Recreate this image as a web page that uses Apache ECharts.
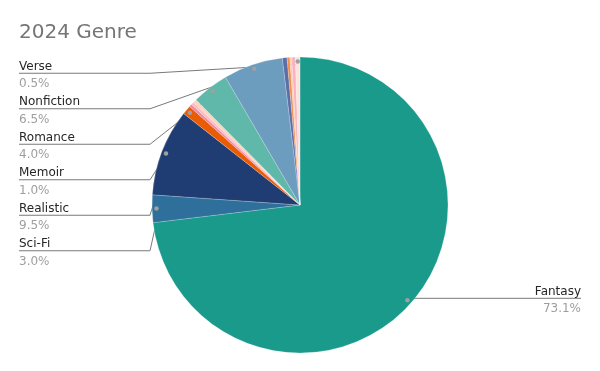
<!DOCTYPE html>
<html><head><meta charset="utf-8">
<script src="https://cdn.jsdelivr.net/npm/echarts@6/dist/echarts.min.js"></script>
<style>html,body{margin:0;padding:0;background:#fff}#c{width:600px;height:371px}</style>
</head><body><div id="c"></div>
<script>
// ---- data ----
const categories = ['Fantasy','Sci-Fi','Realistic','Memoir','Unlabeled 1','Unlabeled 2','Unlabeled 3','Romance','Nonfiction','Unlabeled 4','Unlabeled 5','Unlabeled 6','Unlabeled 7','Verse'];
const values = [73.1, 3.0, 9.5, 1.0, 0.3, 0.3, 0.4, 4.0, 6.5, 0.5, 0.3, 0.2, 0.4, 0.5];
const labeled = [true, true, true, true, false, false, false, true, true, false, false, false, false, true];
const colors = ['#1a9a8b','#2e709b','#1f3d73','#e95c03','#f2899f','#f9bcc6','#fdd5bf','#5fb8aa','#6c9cbe','#5c6ea8','#f28c4a','#f9c9aa','#f7b4c0','#fde2de'];

// ---- layout ----
const W = 600, CX = 300, CY = 205, R = 148, VIEW_TOP = 55.5, EDGE = 19, DOT_RATIO = 0.95;
const FONT = 'DejaVu Sans';

const chart = echarts.init(document.getElementById('c'), null, {renderer: 'canvas'});

const mainData = categories.map((n, i) => ({
  name: n, value: values[i],
  itemStyle: {color: colors[i]},
  label: {show: labeled[i]},
  labelLine: {show: labeled[i]}
}));
const dotData = categories.map((n, i) => ({
  name: n, value: values[i],
  label: {show: labeled[i]}
}));

chart.setOption({
  animation: false,
  backgroundColor: '#fff',
  title: {
    text: '2024 Genre', left: 14, top: 18,
    textStyle: {fontSize: 20, fontWeight: 'normal', color: '#757575', fontFamily: FONT}
  },
  series: [
    {
      type: 'pie',
      left: 0, right: 0, top: VIEW_TOP, bottom: 0,
      center: [CX, CY - VIEW_TOP],
      radius: R,
      startAngle: 90,
      clockwise: true,
      itemStyle: {borderColor: 'rgba(255,255,255,0.7)', borderWidth: 0.3},
      label: {
        show: true, position: 'outer', alignTo: 'edge', edgeDistance: EDGE,
        distanceToLabelLine: 0,
        fontSize: 12, fontFamily: FONT, lineHeight: 16.6,
        formatter: p => '{n|' + p.name + '}\n{p|' + p.percent.toFixed(1) + '%}',
        rich: {
          n: {fontSize: 12, color: '#262626', lineHeight: 16, verticalAlign: 'bottom', fontFamily: FONT},
          p: {fontSize: 12, color: '#9e9e9e', lineHeight: 17.5, verticalAlign: 'bottom', fontFamily: FONT}
        }
      },
      labelLine: {show: true, length: 8, length2: 10, lineStyle: {color: '#7a7a7a', width: 1}},
      labelLayout: function (p) {
        const pts = p.labelLinePoints;
        if (!pts) return {};
        const a = pts[0];
        const dot = [CX + (a[0] - CX) * DOT_RATIO, CY + (a[1] - CY) * DOT_RATIO];
        if (a[0] < CX) {
          const y = p.labelRect.y + p.labelRect.height / 2;
          return {labelLinePoints: [dot, [CX - R - 2, y], [EDGE, y]]};
        }
        return {y: dot[1], labelLinePoints: [dot, [W - EDGE, dot[1]]]};
      },
      data: mainData
    },
    {
      type: 'pie', silent: true,
      left: 0, right: 0, top: VIEW_TOP, bottom: 0,
      center: [CX, CY - VIEW_TOP],
      radius: [R * 0.9, R],
      startAngle: 90,
      clockwise: true,
      itemStyle: {color: 'rgba(0,0,0,0)', borderWidth: 0},
      label: {
        show: true, position: 'inside', formatter: '{d|}',
        rich: {d: {width: 4.5, height: 4.5, borderRadius: 2.25, backgroundColor: '#a0a0a0'}}
      },
      labelLine: {show: false},
      data: dotData
    }
  ]
});
</script></body></html>
